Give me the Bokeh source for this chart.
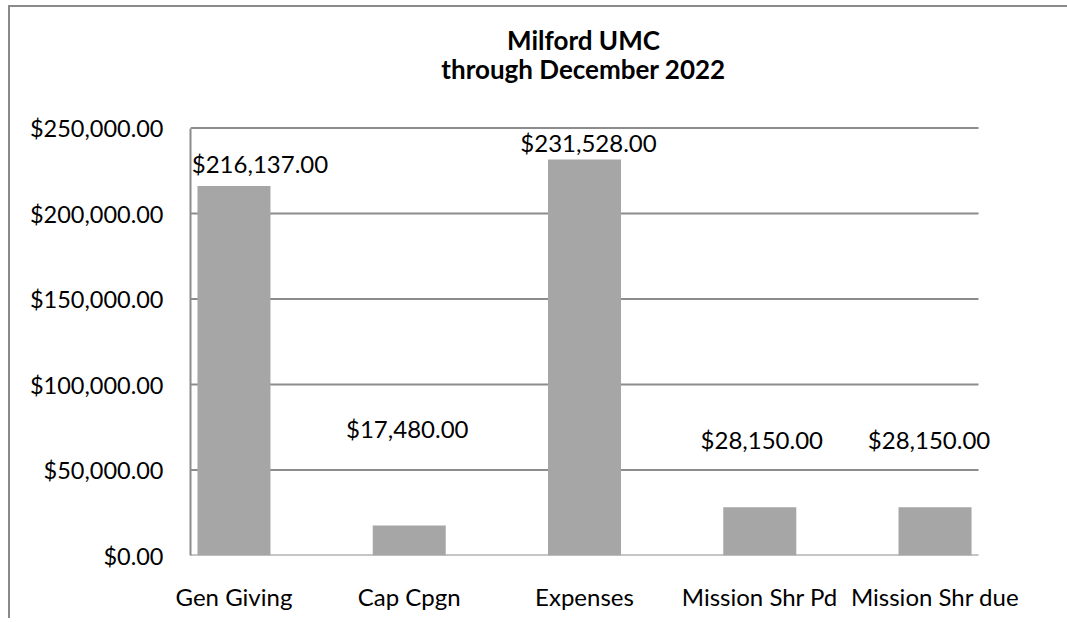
from bokeh.plotting import figure
from bokeh.models import ColumnDataSource, Range1d, FixedTicker, NumeralTickFormatter
from bokeh.core.properties import value
from bokeh.embed import file_html
from bokeh.resources import INLINE

# ---- data ----
categories = ["Gen Giving", "Cap Cpgn", "Expenses", "Mission Shr Pd", "Mission Shr due"]
amounts = [216137.00, 17480.00, 231528.00, 28150.00, 28150.00]
y_ticks = [0, 50000, 100000, 150000, 200000, 250000]
title_lines = ["Milford UMC", "through December 2022"]

# ---- styles / layout ----
FONT = "Lato"
BAR_COLOR = "#a6a6a6"
GRID_COLOR = "#8c8c8c"
BORDER_COLOR = "#8a8a8a"
W, H = 1057, 611                 # canvas size (page offset 10, 7)
ORIGIN_X, ORIGIN_Y = 10, 7
PLOT_LEFT, PLOT_BOTTOM = 190, 555  # page px of the value axis / zero line
PX_PER_CAT = 175.27
PX_PER_VAL = 427.5 / 250000
PAD = 0.248                       # category padding at the left/right of the plot area
label_dx = [26, -2, 4, 2, -6]     # px offsets of the data labels (as in the original)
label_dy = [-22, -97, -17, -68, -68]
title_px_x = 583                  # page px of title centre
title_px_y = [39, 68]             # page px of title baselines

idx = list(range(len(categories)))
src = ColumnDataSource(dict(
    x=idx, top=amounts,
    label=["${:,.2f}".format(v) for v in amounts],
    dx=label_dx, dy=label_dy,
))
x_lo, x_hi = -PAD, len(categories) - 1 + PAD
grid_src = ColumnDataSource(dict(x0=[x_lo] * len(y_ticks), x1=[x_hi] * len(y_ticks), y=y_ticks))

min_left = PLOT_LEFT - ORIGIN_X
min_bottom = ORIGIN_Y + H - PLOT_BOTTOM
frame_w = W - min_left
frame_h = PLOT_BOTTOM - ORIGIN_Y

p = figure(width=W, height=H, output_backend="svg", toolbar_location=None,
           x_range=Range1d(x_lo, x_lo + frame_w / PX_PER_CAT),
           y_range=Range1d(0, frame_h / PX_PER_VAL),
           min_border_left=min_left, min_border_right=0, min_border_top=0, min_border_bottom=min_bottom)
p.styles = {"margin-left": f"{ORIGIN_X}px", "margin-top": f"{ORIGIN_Y}px",
            "box-shadow": f"-2px 0 0 0 {BORDER_COLOR}, 0 -2px 0 0 {BORDER_COLOR}, -2px -2px 0 0 {BORDER_COLOR}"}
p.outline_line_color = None
p.background_fill_color = "white"
p.border_fill_color = "white"
p.grid.grid_line_color = None

# gridlines + baseline (across the category area only)
p.segment(x0="x0", x1="x1", y0="y", y1="y", source=grid_src, line_color=GRID_COLOR, line_width=2)

p.vbar(x="x", top="top", width=0.4166, bottom=0, source=src, fill_color=BAR_COLOR, line_color=None)

p.text(x="x", y="top", text="label", x_offset="dx", y_offset="dy", source=src,
       text_align="center", text_baseline="alphabetic",
       text_font=value(FONT), text_font_size="24px", text_color="black")

# title
t_src = ColumnDataSource(dict(
    x=[x_lo + (title_px_x - PLOT_LEFT) / PX_PER_CAT] * 2,
    y=[(PLOT_BOTTOM - ty) / PX_PER_VAL for ty in title_px_y],
    text=title_lines,
))
p.text(x="x", y="y", text="text", source=t_src, text_align="center", text_baseline="alphabetic",
       text_font=value(FONT), text_font_style="bold", text_font_size="26px", text_color="black")

# axes
p.yaxis.ticker = FixedTicker(ticks=y_ticks)
p.yaxis.formatter = NumeralTickFormatter(format="$0,0.00")
p.yaxis.bounds = (0, 250000)
p.xaxis.ticker = FixedTicker(ticks=idx)
p.xaxis.major_label_overrides = {i: c for i, c in zip(idx, categories)}
for ax in (p.xaxis[0], p.yaxis[0]):
    ax.axis_line_color = GRID_COLOR
    ax.axis_line_width = 2
    ax.major_tick_line_color = None
    ax.minor_tick_line_color = None
    ax.major_tick_out = 0
    ax.major_tick_in = 0
    ax.major_label_text_font = FONT
    ax.major_label_text_color = "black"
p.xaxis.axis_line_color = None
p.yaxis.major_label_text_font_size = "23.5px"
p.xaxis.major_label_text_font_size = "24px"
p.yaxis.major_label_standoff = 27
p.xaxis.major_label_standoff = 26

open("out.html", "w").write(file_html(p, INLINE))
